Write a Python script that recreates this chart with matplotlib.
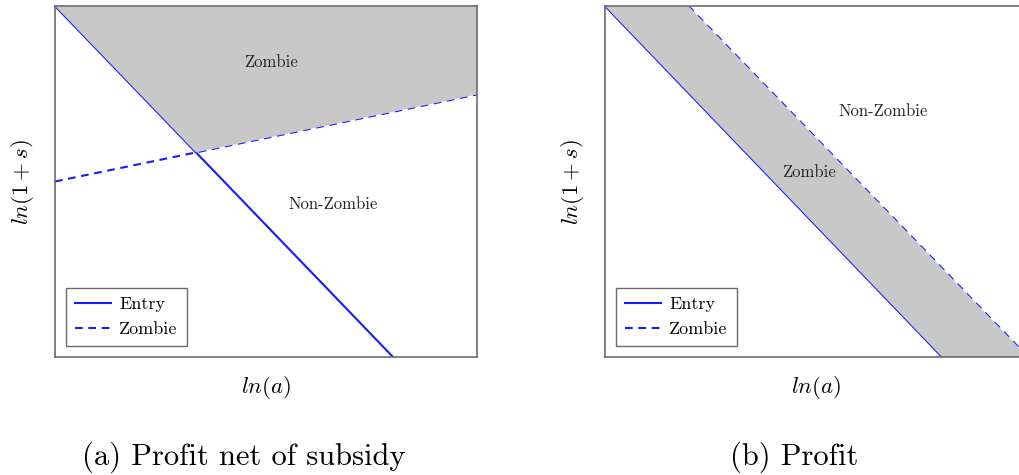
import numpy as np
import matplotlib
matplotlib.use("Agg")
import matplotlib.pyplot as plt

plt.rcParams["font.family"] = ["cmr10", "DejaVu Serif"]
plt.rcParams["mathtext.fontset"] = "cm"
plt.rcParams["axes.unicode_minus"] = False

# ---- data (axes units 0..1) ----
# panel (a): profit net of subsidy
a_entry_x = [0.0, 0.801]
a_entry_y = [1.0, 0.0]
a_zombie_x = [0.0, 1.0]
a_zombie_y = [0.50, 0.748]

# panel (b): profit
b_entry_x = [0.0, 0.797]
b_entry_y = [1.0, 0.0]
b_zombie_x = [0.197, 1.0]
b_zombie_y = [1.0, 0.0]

captions = ["(a) Profit net of subsidy", "(b) Profit"]
region_labels = [
    [("Zombie", 0.512, 0.84), ("Non-Zombie", 0.658, 0.436)],
    [("Non-Zombie", 0.657, 0.70), ("Zombie", 0.481, 0.525)],
]

BLUE = "#1a1aff"
GRAY = "#c8c8c8"
SPINE = "#6b6b6b"
DASH = (0, (3.7, 2.7))


def line_through(x, y):
    k = (y[1] - y[0]) / (x[1] - x[0])
    return k, y[0] - k * x[0]


fig = plt.figure(figsize=(10.19, 4.75), dpi=100)
ax_a = fig.add_axes([55 / 1019, 118 / 475, 422 / 1019, 351 / 475])
ax_b = fig.add_axes([605 / 1019, 118 / 475, 423 / 1019, 351 / 475])

# ---- (a) ----
ka, ca = line_through(a_entry_x, a_entry_y)
kz, cz = line_through(a_zombie_x, a_zombie_y)
xi = (cz - ca) / (ka - kz)
yi = ka * xi + ca
ax_a.fill([a_entry_x[0], xi, a_zombie_x[1], a_zombie_x[1]],
          [a_entry_y[0], yi, a_zombie_y[1], 1.0],
          color=GRAY, lw=0, zorder=3)
ax_a.plot(a_entry_x, a_entry_y, color=BLUE, lw=1.5, label="Entry", zorder=2)
ax_a.plot(a_zombie_x, a_zombie_y, color=BLUE, lw=1.5, ls=DASH, label="Zombie", zorder=2)

# ---- (b) ----
ax_b.fill([b_entry_x[0], b_zombie_x[0], b_zombie_x[1], b_entry_x[1]],
          [b_entry_y[0], b_zombie_y[0], b_zombie_y[1], b_entry_y[1]],
          color=GRAY, lw=0, zorder=3)
ax_b.plot(b_entry_x, b_entry_y, color=BLUE, lw=1.5, label="Entry", zorder=2)
ax_b.plot(b_zombie_x, b_zombie_y, color=BLUE, lw=1.5, ls=DASH, label="Zombie", zorder=2)

for ax, cap, labs in zip([ax_a, ax_b], captions, region_labels):
    ax.set_xlim(0, 1)
    ax.set_ylim(0, 1)
    ax.set_xticks([])
    ax.set_yticks([])
    for s in ax.spines.values():
        s.set_color(SPINE)
        s.set_linewidth(1.2)
        s.set_zorder(5)
    for txt, x, y in labs:
        ax.text(x, y, txt, ha="center", va="center", fontsize=12, color="#222222", zorder=6)
    ax.set_xlabel("$ln(a)$", fontsize=16.5, va="center")
    ax.set_ylabel("$ln(1+s)$", fontsize=16.5, va="center")
    ax.xaxis.set_label_coords(0.5, -0.088)
    ax.yaxis.set_label_coords(-0.078, 0.5)
    leg = ax.legend(loc="lower left", fontsize=13, fancybox=False, framealpha=1,
                    borderaxespad=0.6, borderpad=0.5, handlelength=2.0,
                    handletextpad=0.45, labelspacing=0.5)
    leg.get_frame().set_edgecolor(SPINE)
    leg.get_frame().set_linewidth(1.0)
    leg.set_zorder(7)

fig.text(244 / 1019, 1 - 457 / 475, captions[0], ha="center", va="center", fontsize=22)
fig.text(794 / 1019, 1 - 457 / 475, captions[1], ha="center", va="center", fontsize=22)

fig.savefig("out.png", dpi=100)
